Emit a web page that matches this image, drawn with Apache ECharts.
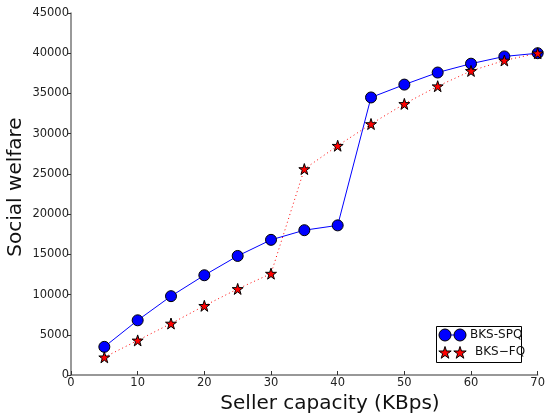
<!DOCTYPE html>
<html><head><meta charset="utf-8">
<script src="https://cdn.jsdelivr.net/npm/echarts@6/dist/echarts.min.js"></script>
<style>html,body{margin:0;padding:0;background:#fff}#c{width:548px;height:419px}</style>
</head><body><div id="c"></div>
<script>
const capacity = [5,10,15,20,25,30,35,40,45,50,55,60,65,70];
const spq = [3500,6800,9800,12400,14800,16800,18000,18600,34500,36100,37600,38700,39600,40000];
const fq = [2200,4300,6400,8600,10700,12600,25600,28500,31200,33700,35900,37800,39100,40000];
const seriesNames = ['BKS-SPQ','BKS\u2212FQ'];
const STAR = 'path://M50,0 L61.8,35.4 L99,35.4 L69,57.3 L80.4,92.7 L50,70.8 L19.6,92.7 L31,57.3 L1,35.4 L38.2,35.4 Z';
const font = 'DejaVu Sans';
function starPts(cx, cy, R){
  const r = R*0.382, pts=[];
  for(let i=0;i<10;i++){
    const a = -Math.PI/2 + i*Math.PI/5, rr = i%2?r:R;
    pts.push([cx+rr*Math.cos(a), cy+rr*Math.sin(a)]);
  }
  return pts;
}
const chart = echarts.init(document.getElementById('c'));
chart.setOption({
  animation:false,
  textStyle:{fontFamily:font},
  grid:{left:71,right:8,top:13,bottom:44},
  xAxis:{type:'value',min:0,max:70,interval:10,
    axisLine:{lineStyle:{color:'#777',width:1.5}},
    axisTick:{inside:true,length:4,lineStyle:{color:'#333'}},
    axisLabel:{color:'#222',fontSize:11.5,fontFamily:font,margin:2,formatter:v=>String(v)},
    splitLine:{show:false}},
  yAxis:{type:'value',min:0,max:45000,interval:5000,
    axisLine:{show:true,lineStyle:{color:'#777',width:1.5}},
    axisTick:{show:true,length:3,lineStyle:{color:'#333'}},
    axisLabel:{color:'#222',fontSize:11.5,fontFamily:font,margin:2,formatter:v=>String(v)},
    splitLine:{show:false}},
  series:[
    {name:seriesNames[0],type:'line',data:capacity.map((x,i)=>[x,spq[i]]),
     symbol:'circle',symbolSize:11,lineStyle:{color:'#0000ff',width:1},
     itemStyle:{color:'#0000ff',borderColor:'#000',borderWidth:1},z:3},
    {name:seriesNames[1],type:'line',data:capacity.map((x,i)=>[x,fq[i]]),
     symbol:STAR,symbolSize:11,lineStyle:{color:'#ff0000',width:1,type:[1,3]},
     itemStyle:{color:'#ff0000',borderColor:'#000',borderWidth:1},z:4}
  ],
  graphic:[
    {type:'text',x:330,y:404,style:{text:'Seller capacity (KBps)',font:'20px "DejaVu Sans"',fill:'#111',align:'center',verticalAlign:'middle'}},
    {type:'text',x:16,y:187,rotation:Math.PI/2,style:{text:'Social welfare',font:'20px "DejaVu Sans"',fill:'#111',align:'center',verticalAlign:'middle'}},
    {type:'rect',shape:{x:436.5,y:326.5,width:85,height:36},style:{fill:'#fff',stroke:'#000',lineWidth:1}},
    {type:'line',shape:{x1:445,y1:335,x2:460,y2:335},style:{stroke:'#0000ff',lineWidth:1}},
    {type:'circle',shape:{cx:445,cy:335,r:6},style:{fill:'#0000ff',stroke:'#000',lineWidth:1}},
    {type:'circle',shape:{cx:460,cy:335,r:6},style:{fill:'#0000ff',stroke:'#000',lineWidth:1}},
    {type:'text',x:470,y:335,style:{text:seriesNames[0],font:'12px "DejaVu Sans"',fill:'#111',verticalAlign:'middle'}},
    {type:'polygon',shape:{points:starPts(445,353,6.5)},style:{fill:'#ff0000',stroke:'#000',lineWidth:1}},
    {type:'polygon',shape:{points:starPts(460,353,6.5)},style:{fill:'#ff0000',stroke:'#000',lineWidth:1}},
    {type:'text',x:475,y:352,style:{text:seriesNames[1],font:'12px "DejaVu Sans"',fill:'#111',verticalAlign:'middle'}}
  ]
});
</script></body></html>
